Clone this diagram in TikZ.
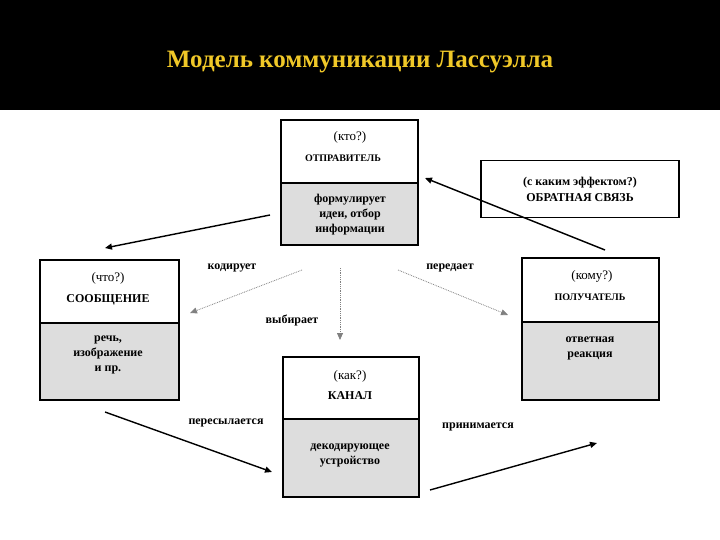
\documentclass[tikz,border=0pt]{standalone}
\usepackage{fontspec}
\setmainfont{Liberation Serif}
\usetikzlibrary{arrows.meta}
\definecolor{boxgray}{RGB}{221,221,221}
\definecolor{titlegold}{RGB}{240,200,40}
\begin{document}
\begin{tikzpicture}[x=1pt,y=-1pt,
  frame/.style={draw=black,line width=1.6pt},
  upper/.style={fill=white},
  lower/.style={fill=boxgray},
  txt/.style={align=center,font=\fontsize{13}{15}\selectfont,inner sep=0pt},
  btxt/.style={align=center,font=\bfseries\fontsize{12}{15}\selectfont,inner sep=0pt},
  lbl/.style={font=\bfseries\fontsize{12}{14}\selectfont,inner sep=1pt},
  blackarr/.style={-{Triangle[length=7pt,width=6pt]},line width=1.4pt},
  grayarr/.style={-{Triangle[length=7pt,width=6pt]},line width=0.8pt,draw=gray,densely dotted}]
\fill[white] (0,0) rectangle (720,540);
\fill[black] (0,0) rectangle (720,110);
\node[font=\bfseries\fontsize{25}{28}\selectfont,text=titlegold] (title) at (360,62) {Модель коммуникации Лассуэлла};
% top box
\fill[upper] (281,120) rectangle (418,183);
\fill[lower] (281,183) rectangle (418,245);
\draw[frame] (281,120) rectangle (418,245);
\draw[frame] (281,183) -- (418,183);
\node[txt] (s1) at (350,137) {(кто?)};
\node[btxt,font=\bfseries\fontsize{10}{12}\selectfont] (s2) at (343,158) {ОТПРАВИТЕЛЬ};
\node[btxt] (s3) at (350,215) {формулирует\\идеи, отбор\\информации};
\coordinate (topbox) at (350,183);
% left box
\fill[upper] (40,260) rectangle (179,323);
\fill[lower] (40,323) rectangle (179,400);
\draw[frame] (40,260) rectangle (179,400);
\draw[frame] (40,323) -- (179,323);
\node[txt] (m1) at (108,278) {(что?)};
\node[btxt] (m2) at (108,300) {СООБЩЕНИЕ};
\node[btxt] (m3) at (108,355) {речь,\\изображение\\и пр.};
% right box
\fill[upper] (522,258) rectangle (659,322);
\fill[lower] (522,322) rectangle (659,400);
\draw[frame] (522,258) rectangle (659,400);
\draw[frame] (522,322) -- (659,322);
\node[txt] (r1) at (592,276) {(кому?)};
\node[btxt,font=\bfseries\fontsize{10}{12}\selectfont] (r2) at (590,297) {ПОЛУЧАТЕЛЬ};
\node[btxt] (r3) at (590,348) {ответная\\реакция};
% bottom box
\fill[upper] (283,357) rectangle (419,419);
\fill[lower] (283,419) rectangle (419,497);
\draw[frame] (283,357) rectangle (419,497);
\draw[frame] (283,419) -- (419,419);
\node[txt] (c1) at (350,376) {(как?)};
\node[btxt] (c2) at (350,396) {КАНАЛ};
\node[btxt] (c3) at (350,455) {декодирующее\\устройство};
% feedback
\node[frame,fill=white,minimum width=198pt,minimum height=57pt,align=center,inner sep=0pt,font=\bfseries\fontsize{12}{16}\selectfont] (fb) at (580,189) {(с каким эффектом?)\\ОБРАТНАЯ СВЯЗЬ};
% arrows
\coordinate (a1s) at (270,215); \coordinate (a1e) at (105,248);
\draw[blackarr] (a1s) -- (a1e);
\coordinate (a2s) at (605,250); \coordinate (a2e) at (425,178);
\draw[blackarr] (a2s) -- (a2e);
\coordinate (g1s) at (302,270); \coordinate (g1e) at (190,313);
\draw[grayarr] (g1s) -- (g1e);
\coordinate (g2s) at (398,270); \coordinate (g2e) at (508,315);
\draw[grayarr] (g2s) -- (g2e);
\coordinate (g3s) at (340,268); \coordinate (g3e) at (340,340);
\draw[grayarr] (g3s) -- (g3e);
\coordinate (b1s) at (105,412); \coordinate (b1e) at (272,472);
\draw[blackarr] (b1s) -- (b1e);
\coordinate (b2s) at (430,490); \coordinate (b2e) at (597,443);
\draw[blackarr] (b2s) -- (b2e);
% labels
\node[lbl] (l1) at (232,268) {кодирует};
\node[lbl] (l2) at (450,268) {передает};
\node[lbl] (l3) at (292,320) {выбирает};
\node[lbl] (l4) at (226,423) {пересылается};
\node[lbl] (l5) at (478,427) {принимается};
\end{tikzpicture}
\end{document}
